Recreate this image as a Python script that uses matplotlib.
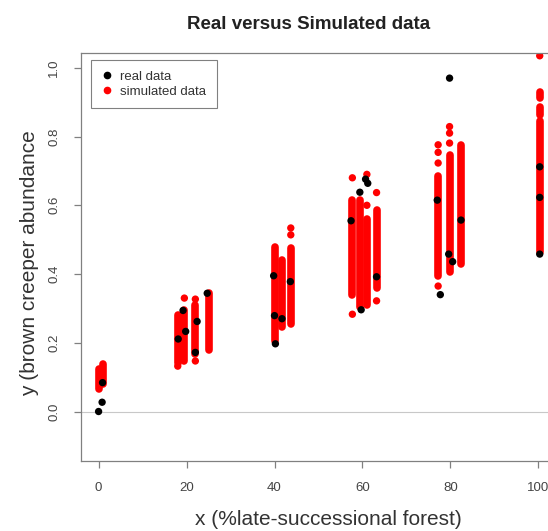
import matplotlib
matplotlib.use('Agg')
import matplotlib.pyplot as plt
from matplotlib.lines import Line2D

plt.rcParams['font.family'] = ['Liberation Sans', 'DejaVu Sans']

# real data points
real_x = [0, 0.8, 0.9, 18.1, 19.2, 19.8, 22.0, 22.4, 24.7,
          39.8, 40.0, 40.2, 41.7, 43.6,
          57.4, 59.4, 59.7, 60.7, 61.2, 63.2,
          77.0, 77.7, 79.6, 79.8, 80.5, 82.4,
          100.3, 100.3, 100.3]
real_y = [0.0, 0.027, 0.084, 0.211, 0.294, 0.233, 0.172, 0.262, 0.344,
          0.395, 0.279, 0.197, 0.27, 0.378,
          0.555, 0.638, 0.296, 0.676, 0.664, 0.392,
          0.615, 0.340, 0.458, 0.970, 0.436, 0.557,
          0.712, 0.623, 0.458]

# simulated data: dense columns (range of the replicates at each x)
sim_x = [0, 1, 18, 19.5, 22, 25,
         40, 41.8, 43.7,
         57.7, 59.5, 61, 63.2,
         77.2, 79.8, 82.3,
         100.3, 100.3, 100.3]
sim_lo = [0.065, 0.08, 0.14, 0.148, 0.168, 0.178,
          0.205, 0.245, 0.255,
          0.34, 0.305, 0.31, 0.36,
          0.393, 0.407, 0.43,
          0.465, 0.864, 0.912]
sim_hi = [0.125, 0.138, 0.28, 0.295, 0.31, 0.345,
          0.478, 0.44, 0.475,
          0.615, 0.615, 0.56, 0.585,
          0.684, 0.747, 0.776,
          0.845, 0.887, 0.931]

# simulated data: isolated replicates outside the dense columns
sim_pt_x = [18, 19.5, 22, 22, 43.7, 43.7, 57.7, 57.7, 61, 61,
            63.2, 63.2, 77.2, 77.2, 77.2, 77.2, 79.8, 79.8, 79.8, 100.3]
sim_pt_y = [0.132, 0.33, 0.327, 0.147, 0.514, 0.534, 0.68, 0.283, 0.69, 0.60,
            0.637, 0.322, 0.723, 0.754, 0.776, 0.365, 0.781, 0.81, 0.829, 1.035]

fig = plt.figure(figsize=(5.48, 5.31), dpi=100)
ax = fig.add_axes([81/548, 1 - 461/531, 475/548, 408.3/531])

ax.axhline(0, color='#c8c8c8', lw=0.8, zorder=0)

ax.vlines(sim_x, sim_lo, sim_hi, colors='red', lw=5.5, capstyle='round', zorder=2)
ax.scatter(sim_pt_x, sim_pt_y, s=28, color='red', edgecolors='none', zorder=2)
ax.scatter(real_x, real_y, s=28, color='black', edgecolors='none', zorder=3)

ax.set_xlim(-4, 104)
ax.set_ylim(-0.144, 1.044)
ax.set_xticks([0, 20, 40, 60, 80, 100])
ax.set_yticks([0.0, 0.2, 0.4, 0.6, 0.8, 1.0])
ax.set_yticklabels(['0.0', '0.2', '0.4', '0.6', '0.8', '1.0'], rotation=90, va='center')

for s in ax.spines.values():
    s.set_color('#808080')
    s.set_linewidth(0.9)
ax.tick_params(length=5, width=0.9, color='#808080', labelcolor='#444444',
               labelsize=9.5, pad=10)

ax.set_title('Real versus Simulated data', fontsize=13.5, fontweight='bold',
             color='#222222', pad=17, x=0.48)
ax.set_xlabel('x (%late-successional forest)', fontsize=15, color='#333333')
ax.set_ylabel('y (brown creeper abundance', fontsize=15, color='#333333')
ax.xaxis.set_label_coords(0.52, -0.12)
ax.yaxis.set_label_coords(-0.088, 0.485)

handles = [Line2D([], [], ls='none', marker='o', ms=4.5, color='black'),
           Line2D([], [], ls='none', marker='o', ms=4.5, color='red')]
leg = ax.legend(handles, ['real data', 'simulated data'], loc='upper left',
                bbox_to_anchor=(0.021, 0.982), borderaxespad=0, fontsize=9.5,
                fancybox=False, framealpha=1, edgecolor='#808080',
                handlelength=0.8, handletextpad=0.6, borderpad=0.8, labelspacing=0.2)
leg.get_frame().set_linewidth(0.8)
for t in leg.get_texts():
    t.set_color('#333333')

fig.savefig('out.png', dpi=100)
